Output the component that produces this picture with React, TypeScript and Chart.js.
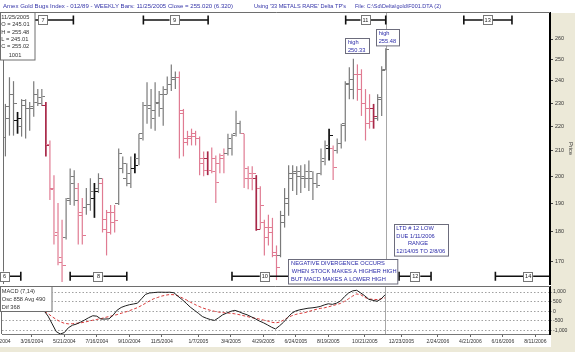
import React, { useEffect, useRef } from 'react';
import { Chart, registerables } from 'chart.js';

Chart.register(...registerables);

const FONT = '"Liberation Sans", Arial, sans-serif';

// ---- weekly OHLC bars: index 0 = week of 2/6/2004 ... index 94 = week of 11/25/2005 ----
const barHigh = [
  229.7, 241.7, 239.9, 226.2, 231.8, 231.8, 230.5, 239.9, 236.3, 236.3,
  230.5, 214.2, 200.5, 190.1, 184.1, 191.9, 203.1, 202.4, 197.5, 191.9,
  195.6, 199.3, 197.5, 201.2, 199.3, 187.6, 189.4, 189.4, 211.0, 207.8,
  205.1, 207.8, 209.0, 217.0, 230.5, 239.4, 236.3, 239.4, 235.4, 237.6,
  242.1, 247.7, 244.4, 244.4, 227.5, 218.2, 219.1, 218.2, 215.8, 209.8,
  209.8, 211.4, 208.2, 209.0, 211.0, 217.0, 217.0, 226.7, 222.4, 217.0,
  203.9, 203.9, 200.5, 196.3, 184.1, 185.9, 184.8, 175.3, 187.3, 195.6,
  204.3, 204.3, 203.9, 204.3, 204.7, 206.2, 202.0, 201.2, 211.0, 214.2,
  219.1, 212.2, 215.0, 221.2, 239.9, 246.3, 250.33, 247.7, 245.4, 236.3,
  234.0, 229.7, 234.0, 246.8, 255.48,
];
const barLow = [
  207.8, 216.2, 216.2, 217.0, 215.8, 215.0, 218.2, 224.1, 228.8, 228.8,
  207.8, 191.2, 175.6, 168.8, 163.5, 177.3, 189.4, 189.1, 175.6, 175.6,
  185.9, 187.3, 184.8, 193.8, 179.7, 172.0, 179.0, 179.7, 189.4, 201.2,
  196.3, 195.6, 201.2, 204.3, 214.2, 221.2, 219.1, 218.2, 224.1, 220.3,
  234.0, 235.4, 236.3, 207.0, 207.8, 212.2, 212.2, 212.2, 200.5, 200.1,
  200.5, 201.2, 190.1, 201.2, 201.2, 208.2, 208.2, 215.8, 217.0, 195.6,
  195.2, 194.8, 180.3, 180.7, 172.0, 175.3, 171.4, 164.1, 171.4, 181.4,
  185.5, 194.5, 193.0, 193.8, 195.6, 194.5, 191.2, 195.6, 200.5, 204.3,
  206.2, 198.6, 209.0, 211.0, 213.8, 231.8, 231.8, 231.1, 224.5, 214.2,
  219.1, 219.1, 222.4, 224.5, 245.01,
];
const barOpen = [
  215.4, 223.3, 234.0, 222.4, 219.9, 229.0, 227.5, 227.5, 234.0, 229.7,
  228.8, 212.6, 195.6, 179.7, 171.4, 178.0, 191.9, 197.5, 195.6, 186.6,
  188.4, 189.4, 191.9, 195.6, 197.5, 184.1, 186.6, 186.6, 190.1, 203.1,
  199.3, 197.5, 203.1, 207.0, 217.0, 228.8, 227.5, 223.3, 229.7, 227.5,
  236.3, 238.5, 240.8, 241.7, 225.4, 215.0, 215.8, 217.0, 215.0, 207.0,
  207.0, 202.4, 207.0, 205.1, 207.0, 209.0, 211.0, 217.0, 221.2, 217.0,
  203.1, 201.2, 199.3, 195.6, 183.1, 181.4, 181.4, 172.0, 172.0, 183.1,
  191.9, 201.2, 201.2, 200.1, 199.3, 199.3, 199.3, 197.5, 201.2, 207.0,
  211.0, 211.0, 210.2, 213.0, 221.2, 238.5, 236.3, 243.1, 243.1, 229.7,
  227.5, 227.5, 223.3, 231.8, 245.01,
];
const barClose = [
  228.5, 234.0, 229.7, 223.3, 231.0, 227.5, 228.4, 230.5, 232.7, 233.0,
  212.2, 194.9, 178.7, 169.8, 168.8, 190.9, 200.1, 190.9, 185.5, 178.7,
  189.4, 194.5, 194.5, 199.3, 180.7, 179.7, 183.1, 183.8, 209.0, 205.1,
  201.2, 203.1, 204.3, 215.0, 229.2, 228.8, 226.7, 230.5, 234.0, 234.0,
  238.5, 241.7, 241.7, 226.7, 213.4, 215.0, 215.8, 215.0, 205.1, 202.4,
  202.4, 202.0, 197.8, 208.2, 209.0, 215.0, 216.2, 221.2, 217.0, 199.3,
  199.3, 201.2, 180.7, 189.1, 178.0, 179.7, 173.0, 168.2, 185.5, 190.1,
  199.3, 202.0, 202.0, 200.1, 202.0, 202.0, 197.5, 196.7, 205.8, 212.2,
  216.2, 203.5, 213.0, 220.3, 239.0, 240.8, 243.1, 236.3, 229.7, 221.2,
  222.0, 224.1, 232.7, 245.4, 255.02,
];
// g = gray, k = black, p = pink, r = dark red
const barTone = [
  'g', 'g', 'g', 'k', 'g', 'g', 'g', 'g', 'g', 'g',
  'r', 'p', 'p', 'p', 'p', 'g', 'g', 'g', 'p', 'p',
  'g', 'g', 'k', 'g', 'p', 'p', 'p', 'p', 'g', 'g',
  'g', 'g', 'k', 'g', 'g', 'g', 'g', 'g', 'g', 'g',
  'g', 'g', 'g', 'p', 'p', 'p', 'p', 'p', 'p', 'p',
  'r', 'p', 'p', 'p', 'p', 'g', 'g', 'g', 'g', 'p',
  'p', 'p', 'r', 'p', 'p', 'p', 'p', 'p', 'g', 'g',
  'g', 'g', 'g', 'g', 'g', 'g', 'g', 'g', 'g', 'g',
  'k', 'p', 'g', 'g', 'g', 'g', 'g', 'p', 'p', 'p',
  'p', 'r', 'g', 'g', 'g',
];

// ---- MACD (7,14): first value belongs to bar index 9 ----
const MACD_FIRST = 9;
const macdOsc = [
  150, 30, -250, -650, -1050, -1175, -1100, -850, -720, -660,
  -560, -450, -330, -230, -250, -400, -400, -390, -200, 60,
  200, 280, 340, 380, 420, 650, 880, 950, 970, 990,
  990, 985, 990, 960, 780, 610, 420, 220, 60, -100,
  -270, -360, -430, -470, -330, -180, -90, 0, 50, -20,
  -110, -180, -280, -380, -500, -590, -700, -820, -915, -750,
  -560, -320, -100, 20, 80, 120, 160, 180, 210, 250,
  330, 390, 360, 420, 530, 760, 950, 1060, 1090, 950,
  800, 620, 570, 520, 640, 858,
];
const macdAvg = [
  100, 0, -120, -280, -420, -540, -620, -650, -640, -620,
  -600, -560, -510, -460, -420, -380, -320, -270, -220, -170,
  -100, -40, 30, 110, 190, 300, 420, 540, 650, 720,
  790, 840, 870, 860, 800, 700, 600, 480, 370, 270,
  180, 110, 50, 0, -40, -70, -85, -100, -130, -170,
  -220, -270, -320, -360, -400, -450, -500, -560, -600, -560,
  -450, -330, -230, -160, -110, -80, -20, 40, 100, 150,
  180, 230, 290, 350, 410, 520, 650, 790, 900, 860,
  720, 640, 620, 610, 650, 700,
];

// ---- axes ----
const priceTicks = [170, 180, 190, 200, 210, 220, 230, 240, 250, 260];
const macdTicks = [-1000, -500, 0, 500, 1000];
const dateTickWeek = [-1, 7, 15, 23, 31, 39, 48, 56, 64, 72, 80, 89, 98, 107, 115, 123, 131];
const dateTickLabel = [
  '1/30/2004', '3/26/2004', '5/21/2004', '7/16/2004', '9/10/2004', '11/5/2004',
  '1/7/2005', '3/4/2005', '4/29/2005', '6/24/2005', '8/19/2005', '10/21/2005',
  '12/23/2005', '2/24/2006', '4/21/2006', '6/16/2006', '8/11/2006',
];
const X_MIN = -0.35;
const X_MAX = 134.6;
const PRICE_MIN = 162.87;
const PRICE_MAX = 273.24;
const MACD_MIN = -1175;
const MACD_MAX = 1260;

// ---- Delta turning-point cycles (week index) ----
const cycleName = ['6', '7', '8', '9', '10', '11', '12', '13', '14'];
const cycleFrom = [-3, 1, 16, 34.1, 56, 84.1, 97.3, 113.3, 121.1];
const cycleTo = [3.8, 16.8, 30, 50.1, 72, 94, 105.2, 125.2, 140];
const cycleMark = [-0.2, 9.3, 23, 41.8, 64.1, 89, 101.3, 119.2, 129.2];
const cycleRow = ['bottom', 'top', 'bottom', 'top', 'bottom', 'top', 'bottom', 'top', 'bottom'];

// ---- annotations (anchored at week index / price) ----
const NOTES = [
  { week: 83.96, price: 260.49, w: 24, h: 15, lines: ['high', '250.33'], dx: [2.4, 2.4], dy: [4.4, 11.5] },
  { week: 91.53, price: 264.96, w: 23, h: 16.4, lines: ['high', '255.48'], dx: [2.2, 2.2], dy: [4.2, 12.2] },
  {
    week: 96.04, price: 182.5, w: 54, h: 31.6,
    lines: ['LTD # 12 LOW', 'DUE 1/11/2006', 'RANGE', '12/14/05 TO 2/8/06'],
    dx: [1.8, 1.8, 13.4, 1.8], dy: [4.2, 11.8, 19.3, 26.8],
  },
  {
    week: 69.78, price: 170.84, w: 109.3, h: 24.5,
    lines: ['NEGATIVE DIVERGENCE OCCURS', 'WHEN STOCK MAKES A HIGHER HIGH', 'BUT MACD MAKES A LOWER HIGH'],
    dx: [2.6, 3.3, 2.6], dy: [4.2, 12.3, 20],
  },
];

const TONE: Record<string, string> = { g: '#7a7a7a', k: '#111111', p: '#e07b92', r: '#a82848' };
const NOTE_BLUE = '#2a2aa8';
const HEAD_BLUE = '#3535a8';
const LAST = barHigh.length - 1;

function text(
  ctx: CanvasRenderingContext2D, s: string, x: number, y: number, color: string, size: number,
  align: CanvasTextAlign = 'left', maxWidth?: number,
) {
  ctx.fillStyle = color;
  ctx.font = `${size}px ${FONT}`;
  ctx.textAlign = align;
  ctx.textBaseline = 'middle';
  if (maxWidth) ctx.fillText(s, x, y, maxWidth);
  else ctx.fillText(s, x, y);
}

function tickImage(color: string, side: 'open' | 'close') {
  const c = document.createElement('canvas');
  c.width = 7;
  c.height = 1;
  const g = c.getContext('2d')!;
  g.fillStyle = color;
  if (side === 'open') g.fillRect(0, 0, 3, 1);
  else g.fillRect(4, 0, 3, 1);
  return c;
}

function lastBarLine(chart: any) {
  const { ctx, chartArea: a } = chart;
  const px = Math.round(chart.scales.x.getPixelForValue(LAST)) + 0.5;
  ctx.save();
  ctx.strokeStyle = '#a8a8a8';
  ctx.lineWidth = 1;
  ctx.beginPath();
  ctx.moveTo(px, a.top);
  ctx.lineTo(px, a.bottom);
  ctx.stroke();
  ctx.restore();
}

function frame(chart: any) {
  const { ctx, chartArea: a } = chart;
  ctx.strokeStyle = '#6e6e6e';
  ctx.lineWidth = 1;
  ctx.beginPath();
  ctx.moveTo(a.left - 0.5, a.bottom);
  ctx.lineTo(a.left - 0.5, a.top - 0.5);
  ctx.lineTo(a.right, a.top - 0.5);
  ctx.stroke();
}

const mainDecor = {
  id: 'mainDecor',
  beforeDatasetsDraw(chart: any) {
    lastBarLine(chart);
  },
  afterDraw(chart: any) {
    const { ctx, chartArea: a } = chart;
    const xs = chart.scales.x;
    const ys = chart.scales.y;
    ctx.save();
    frame(chart);

    // cycles
    ctx.save();
    ctx.beginPath();
    ctx.rect(0, 0, a.right - 1, chart.height);
    ctx.clip();
    cycleName.forEach((name, i) => {
      const y = cycleRow[i] === 'top' ? a.top + 7 : a.bottom - 7.7;
      const x0 = xs.getPixelForValue(cycleFrom[i]);
      const x1 = xs.getPixelForValue(cycleTo[i]);
      const xm = xs.getPixelForValue(cycleMark[i]);
      ctx.strokeStyle = '#111';
      ctx.lineWidth = 1.6;
      ctx.beginPath();
      ctx.moveTo(x0, y);
      ctx.lineTo(x1, y);
      ctx.moveTo(x0, y - 4.5);
      ctx.lineTo(x0, y + 4.5);
      ctx.moveTo(x1, y - 4.5);
      ctx.lineTo(x1, y + 4.5);
      ctx.stroke();
      ctx.fillStyle = '#fff';
      ctx.fillRect(xm - 5, y - 4.8, 10, 9.6);
      ctx.strokeStyle = '#777';
      ctx.lineWidth = 1;
      ctx.strokeRect(Math.round(xm - 5) + 0.5, Math.round(y - 4.8) + 0.5, 9, 9);
      text(ctx, name, xm, y + 0.3, '#222', 5.6, 'center');
    });
    ctx.restore();

    // annotation boxes
    NOTES.forEach((n) => {
      const bx = Math.round(xs.getPixelForValue(n.week)) + 0.5;
      const by = Math.round(ys.getPixelForValue(n.price)) + 0.5;
      ctx.fillStyle = '#fff';
      ctx.fillRect(bx, by, n.w, n.h);
      ctx.strokeStyle = '#6c6c7c';
      ctx.lineWidth = 1;
      ctx.strokeRect(bx, by, n.w, n.h);
      n.lines.forEach((s, j) => text(ctx, s, bx + n.dx[j], by + n.dy[j], NOTE_BLUE, 5.7));
    });

    // data window (last bar)
    ctx.fillStyle = '#fff';
    ctx.fillRect(0, 12.5, 35, 47.5);
    ctx.strokeStyle = '#6e6e6e';
    ctx.strokeRect(0.5, 12.5, 34.5, 47.5);
    const info = [
      '11/25/2005',
      `O = ${barOpen[LAST].toFixed(2)}`,
      `H = ${barHigh[LAST].toFixed(2)}`,
      `L = ${barLow[LAST].toFixed(2)}`,
      `C = ${barClose[LAST].toFixed(2)}`,
    ];
    info.forEach((s, j) => text(ctx, s, 1.3, 17.3 + j * 7.4, '#333', 5.7));
    text(ctx, '1001', 15, 55, '#333', 5.7, 'center');

    // header line
    text(ctx, `Amex Gold Bugs Index - 012/89 - WEEKLY Bars: 11/25/2005 Close = ${barClose[LAST].toFixed(3)} (6.320)`, 3, 6.3, HEAD_BLUE, 6.1, 'left', 230);
    text(ctx, "Using '33 METALS RARE' Delta TP's", 254, 6.3, HEAD_BLUE, 6.1, 'left', 92);
    text(ctx, 'File: C:\\Sd\\Delta\\gold\\F001.DTA (2)', 355, 6.3, HEAD_BLUE, 6.1, 'left', 86);
    ctx.restore();
  },
};

const macdDecor = {
  id: 'macdDecor',
  beforeDatasetsDraw(chart: any) {
    lastBarLine(chart);
  },
  afterDraw(chart: any) {
    const { ctx, chartArea: a } = chart;
    ctx.save();
    frame(chart);
    // legend box
    ctx.fillStyle = '#fff';
    ctx.fillRect(0, a.top, 52, 25);
    ctx.strokeStyle = '#6e6e6e';
    ctx.strokeRect(0.5, a.top - 0.5, 51.5, 25);
    text(ctx, 'MACD (7,14)', 1.8, a.top + 4.7, '#333', 5.7);
    text(ctx, 'Osc 858 Avg 490', 1.8, a.top + 12.3, '#333', 5.7);
    text(ctx, 'Dif 368', 1.8, a.top + 20.3, '#333', 5.7);
    ctx.restore();
  },
};

const noPadX = (s: any) => {
  s.height = 12;
  s.paddingLeft = 0;
  s.paddingRight = 0;
};

export default function App() {
  const mainRef = useRef<HTMLCanvasElement>(null);
  const macdRef = useRef<HTMLCanvasElement>(null);

  useEffect(() => {
    Chart.defaults.font.family = FONT;
    const idx = barHigh.map((_, i) => i);
    const thinIdx = idx.filter((i) => barTone[i] === 'g' || barTone[i] === 'p');
    const thickIdx = idx.filter((i) => barTone[i] === 'k' || barTone[i] === 'r');
    const barSet = (list: number[], w: number) => ({
      type: 'bar',
      data: list.map((i) => ({ x: i, y: [barLow[i], barHigh[i]] })),
      backgroundColor: list.map((i) => TONE[barTone[i]]),
      barThickness: w,
      grouped: false,
      borderWidth: 0,
      inflateAmount: 0,
      order: 2,
    });
    const openImgs: Record<string, HTMLCanvasElement> = {};
    const closeImgs: Record<string, HTMLCanvasElement> = {};
    Object.keys(TONE).forEach((k) => {
      openImgs[k] = tickImage(TONE[k], 'open');
      closeImgs[k] = tickImage(TONE[k], 'close');
    });
    const tickSet = (vals: number[], imgs: Record<string, HTMLCanvasElement>) => ({
      type: 'line',
      data: vals.map((v, i) => ({ x: i, y: v })),
      showLine: false,
      pointRadius: 3,
      pointHoverRadius: 3,
      pointStyle: vals.map((_, i) => imgs[barTone[i]]),
      order: 1,
    });

    const main = new Chart(mainRef.current!, {
      type: 'bar',
      data: {
        datasets: [
          barSet(thinIdx, 1.2),
          barSet(thickIdx, 1.7),
          tickSet(barOpen, openImgs),
          tickSet(barClose, closeImgs),
        ] as any,
      },
      options: {
        responsive: false,
        animation: false,
        events: [],
        layout: { padding: { left: 2, top: 13, right: 0, bottom: 1 } },
        plugins: { legend: { display: false }, tooltip: { enabled: false } },
        scales: {
          x: { type: 'linear', min: X_MIN, max: X_MAX, display: false, offset: false, grid: { offset: false } },
          y: {
            type: 'logarithmic',
            position: 'right',
            min: PRICE_MIN,
            max: PRICE_MAX,
            bounds: 'data',
            afterBuildTicks: (s: any) => {
              s.ticks = priceTicks.map((v) => ({ value: v }));
            },
            afterFit: (s: any) => {
              s.width = 25;
              s.paddingTop = 0;
              s.paddingBottom = 0;
            },
            ticks: { autoSkip: false, padding: 2, color: '#333', font: { size: 5.4 }, callback: (v: any) => String(v) },
            grid: { drawOnChartArea: false, drawTicks: true, tickLength: 3, color: '#444' },
            border: { display: true, color: '#000', width: 2 },
            title: { display: true, text: 'Price', color: '#333', font: { size: 5.8 }, padding: { top: 0.5, bottom: 0 } },
          },
        },
      } as any,
      plugins: [mainDecor],
    });

    const macd = new Chart(macdRef.current!, {
      type: 'line',
      data: {
        datasets: [
          {
            data: macdOsc.map((v, i) => ({ x: MACD_FIRST + i, y: v })),
            borderColor: '#1e1e1e',
            borderWidth: 1,
            pointRadius: 0,
            tension: 0,
          },
          {
            data: macdAvg.map((v, i) => ({ x: MACD_FIRST + i, y: v })),
            borderColor: '#d83a3a',
            borderWidth: 1,
            borderDash: [3, 2],
            pointRadius: 0,
            tension: 0,
          },
        ],
      },
      options: {
        responsive: false,
        animation: false,
        events: [],
        layout: { padding: { left: 2, top: 1, right: 0, bottom: 6 } },
        plugins: { legend: { display: false }, tooltip: { enabled: false } },
        scales: {
          x: {
            type: 'linear',
            min: X_MIN,
            max: X_MAX,
            position: 'bottom',
            bounds: 'data',
            afterBuildTicks: (s: any) => {
              s.ticks = dateTickWeek.map((v) => ({ value: v }));
            },
            afterFit: noPadX,
            ticks: {
              autoSkip: false,
              maxRotation: 0,
              minRotation: 0,
              padding: 1.5,
              color: '#333',
              font: { size: 5.1 },
              callback: (_v: any, i: number) => dateTickLabel[i],
            },
            grid: { drawOnChartArea: false, drawTicks: true, tickLength: 3, color: '#666' },
            border: { display: true, color: '#777', width: 1 },
          },
          y: {
            type: 'linear',
            position: 'right',
            min: MACD_MIN,
            max: MACD_MAX,
            bounds: 'data',
            afterBuildTicks: (s: any) => {
              s.ticks = macdTicks.map((v) => ({ value: v }));
            },
            afterFit: (s: any) => {
              s.width = 25;
              s.paddingTop = 0;
              s.paddingBottom = 0;
            },
            ticks: {
              autoSkip: false,
              padding: 1,
              color: '#333',
              font: { size: 5.1 },
              callback: (v: any) => Number(v).toLocaleString('en-US'),
            },
            grid: { drawOnChartArea: true, drawTicks: true, tickLength: 2, color: '#a0a0a0' },
            border: { display: true, color: '#000', width: 2, dash: [1.5, 2] },
          },
        },
      } as any,
      plugins: [macdDecor],
    });

    return () => {
      main.destroy();
      macd.destroy();
    };
  }, []);

  return (
    <div style={{ position: 'fixed', left: 0, top: 0, width: 575, height: 352, background: '#ece9d8', overflow: 'hidden' }}>
      <div style={{ position: 'absolute', left: 0, top: 0, width: 551, height: 347, background: '#fff' }} />
      <div style={{ position: 'absolute', left: 0, top: 0, width: 575, height: 13, background: '#fff' }} />
      <canvas ref={mainRef} width={575} height={288} style={{ position: 'absolute', left: 0, top: 0 }} />
      <canvas ref={macdRef} width={575} height={66} style={{ position: 'absolute', left: 0, top: 286 }} />
    </div>
  );
}
